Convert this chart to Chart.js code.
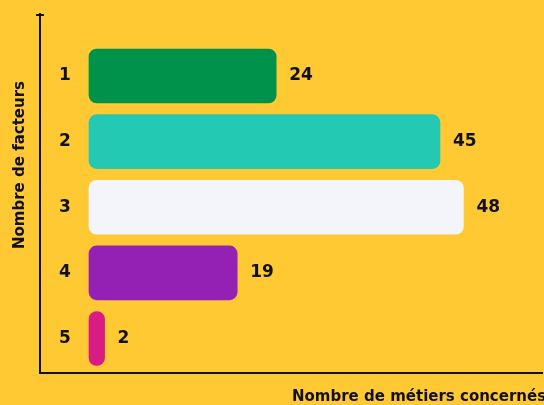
<!DOCTYPE html>
<html>
<head>
<meta charset="utf-8">
<script src="https://cdn.jsdelivr.net/npm/chart.js@4/dist/chart.umd.min.js"></script>
<style>
  html, body { margin: 0; padding: 0; background: #ffc933; }
  #wrap { width: 544px; height: 405px; }
</style>
</head>
<body>
<div id="wrap"><canvas id="myChart" width="544" height="405"></canvas></div>
<script>
const categories = [1, 2, 3, 4, 5];
const metiers = [24, 45, 48, 19, 2];
const barColors = ["#00924a", "#24c9b4", "#f4f5fa", "#9420b4", "#d81c84"];
const yTitle = "Nombre de facteurs";
const xTitle = "Nombre de métiers concernés";

const FONT = "'DejaVu Sans', sans-serif";
const INK = "#111111";

// fond jaune + textes (titres d'axes, valeurs)
const decor = {
  id: "decor",
  beforeDraw(chart) {
    const c = chart.ctx;
    c.save();
    c.fillStyle = "#ffc933";
    c.fillRect(0, 0, chart.width, chart.height);
    c.restore();
  },
  afterDraw(chart) {
    const c = chart.ctx;
    const area = chart.chartArea;
    c.save();
    c.fillStyle = INK;
    c.strokeStyle = INK;
    c.lineWidth = 2;
    // petit trait en haut de l'axe vertical
    c.beginPath();
    c.moveTo(area.left - 4, area.top + 1);
    c.lineTo(area.left + 4, area.top + 1);
    c.stroke();

    // valeurs au bout des barres
    c.font = "bold 17px " + FONT;
    c.textBaseline = "middle";
    c.textAlign = "left";
    chart.getDatasetMeta(0).data.forEach((bar, i) => {
      c.fillText(String(metiers[i]), bar.x + 13, bar.y);
    });

    // titres
    c.font = "bold 15px " + FONT;
    c.textAlign = "left";
    c.fillText(xTitle, 292, 397);
    c.translate(20, 165);
    c.rotate(-Math.PI / 2);
    c.textAlign = "center";
    c.fillText(yTitle, 0, 0);
    c.restore();
  },
};

new Chart(document.getElementById("myChart"), {
  type: "bar",
  data: {
    datasets: [
      {
        data: categories.map((cat, i) => ({ y: cat, x: metiers[i] })),
        backgroundColor: barColors,
        borderWidth: 0,
        borderRadius: 8,
        borderSkipped: false,
        barThickness: 54,
      },
    ],
  },
  options: {
    indexAxis: "y",
    responsive: false,
    animation: false,
    layout: { padding: { top: 14, right: 2, left: 0, bottom: 0 } },
    plugins: {
      legend: { display: false },
      tooltip: { enabled: false },
    },
    scales: {
      x: {
        type: "linear",
        min: -6.28,
        max: 58.08,
        grid: { display: false, drawTicks: false },
        ticks: { display: false },
        border: { display: true, color: INK, width: 2 },
        afterFit: (s) => { s.height = 32; },
      },
      y: {
        type: "linear",
        reverse: true,
        offset: false,
        min: 0.055,
        max: 5.526,
        afterBuildTicks: (s) => { s.ticks = categories.map((v) => ({ value: v })); },
        grid: { display: false, drawTicks: false },
        border: { display: true, color: INK, width: 2 },
        ticks: {
          mirror: true,
          crossAlign: "center",
          padding: 19,
          color: INK,
          font: { family: FONT, size: 17, weight: "bold" },
        },
        afterFit: (s) => { s.width = 40; s.paddingTop = 0; s.paddingBottom = 0; },
      },
    },
  },
  plugins: [decor],
});
</script>
</body>
</html>
